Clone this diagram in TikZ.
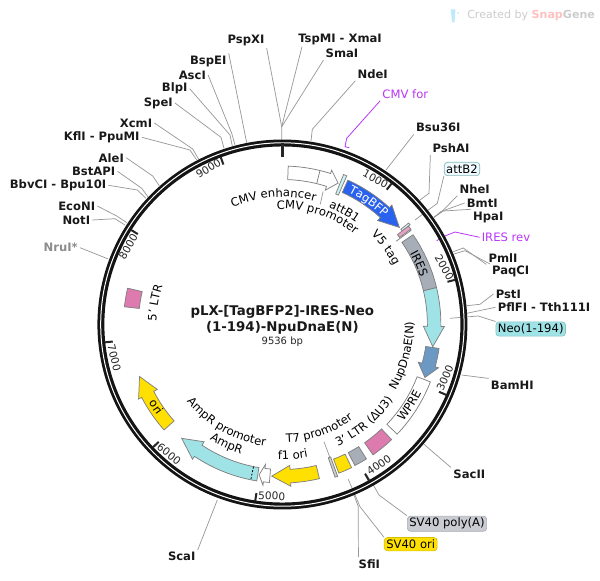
\documentclass[tikz,border=0pt]{standalone}
\usepackage{fontspec}
\setmainfont{DejaVu Sans}
\usetikzlibrary{decorations.text}
\definecolor{aqua}{HTML}{9FE3E6}
\definecolor{ygold}{HTML}{FFE000}
\definecolor{pinkf}{HTML}{DD7AAE}
\definecolor{grayf}{HTML}{A8AEB8}
\definecolor{bluef}{HTML}{2A62F0}
\definecolor{steelf}{HTML}{6C98C4}
\definecolor{violetl}{HTML}{B936F5}
\definecolor{edgeg}{HTML}{7F7F7F}
\definecolor{leadg}{HTML}{999999}
\definecolor{polygray}{HTML}{C9CCD3}
\tikzset{
  enz/.style={font=\fontsize{8.7}{10}\selectfont\bfseries,inner sep=1.5pt,text=black!90},
  greyenz/.style={enz,text=black!45},
  tag/.style={font=\fontsize{8.7}{10}\selectfont,inner sep=1.5pt,rounded corners=2.5pt,draw,line width=.5pt,minimum height=10pt},
  primer/.style={font=\fontsize{8.7}{10}\selectfont,inner sep=1.5pt,text=violetl},
  lead/.style={draw=leadg,line width=.55pt},
  plead/.style={draw=violetl,line width=.6pt},
  feat/.style={draw=edgeg,line width=.55pt},
  ticknum/.style={font=\fontsize{7.9}{9}\selectfont,inner sep=0pt,text=black!85},
  ticks/.style={line width=1.5pt,black!85}
}
% feature helpers, clockwise degrees from 12 o'clock
\newcommand{\farrow}[4]{\draw[feat,fill=#1] ({90-#2}:158.5) arc[start angle={90-#2},end angle={90-#3},radius=158.5] -- ({90-#3}:162) -- ({90-#4}:152) -- ({90-#3}:141) -- ({90-#3}:145) arc[start angle={90-#3},end angle={90-#2},radius=145] -- cycle;}
\newcommand{\fblock}[5]{\draw[feat,fill=#1] ({90-#2}:#5) arc[start angle={90-#2},end angle={90-#3},radius=#5] -- ({90-#3}:#4) arc[start angle={90-#3},end angle={90-#2},radius=#4] -- cycle;}
\newcommand{\cwtext}[4][black]{\path[decorate,decoration={text along path,text align=center,text={|\fontsize{8.7}{10}\selectfont\color{#1}|#2}}] ({90-#3+50}:#4) arc[start angle={90-#3+50},end angle={90-#3-50},radius=#4];}
\newcommand{\ccwtext}[4][black]{\path[decorate,decoration={text along path,text align=center,text={|\fontsize{8.7}{10}\selectfont\color{#1}|#2}}] ({90-#3-50}:#4) arc[start angle={90-#3-50},end angle={90-#3+50},radius=#4];}
\newcommand{\legA}[3]{\coordinate (#1e) at (#3); \draw[lead] (#1.#2) -- (#1e);}
\newcommand{\legB}[4]{\coordinate (#1m) at (#3); \coordinate (#1e) at (#4); \draw[lead] (#1.#2) -- (#1m) -- (#1e);}
\begin{document}
\begin{tikzpicture}[x=0.75pt,y=0.75pt]
\useasboundingbox (0,0) rectangle (600,-581);

% watermark
\fill[cyan!25] (450.7,-9.5) -- (455.5,-9.5) -- (454.5,-22.5) -- (452,-22.5) -- cycle;
\fill[cyan!25] (458,-13) circle (1);
\node[anchor=west,inner sep=0pt,font=\fontsize{8.3}{10}\selectfont,text=black!20] (wm) at (467,-15.5) {Created by {\bfseries\color{red!25}Snap}{\bfseries Gene}};

% enzyme and primer labels with leaders
\node[enz] (Psp) at (246,-40.5) {PspXI};
\node[enz] (Tsp) at (340,-39) {TspMI - XmaI};
\node[enz] (Sma) at (342,-53.5) {SmaI};
\node[enz] (Nde) at (372.7,-74) {NdeI};
\node[enz] (Bsu) at (438.3,-127.7) {Bsu36I};
\node[enz] (Psh) at (451,-148.3) {PshAI};
\node[enz] (Nhe) at (474.7,-189) {NheI};
\node[enz] (Bmt) at (482.3,-203) {BmtI};
\node[enz] (Hpa) at (488.3,-217) {HpaI};
\node[enz] (Pml) at (503,-257.7) {PmlI};
\node[enz] (Paq) at (510.7,-271.7) {PaqCI};
\node[enz] (Pst) at (508.3,-294) {PstI};
\node[enz] (Pfl) at (544,-307.3) {PflFI - Tth111I};
\node[enz] (Bam) at (512.3,-385) {BamHI};
\node[enz] (Sac) at (469.3,-474) {SacII};
\node[enz] (Sfi) at (369.3,-564) {SfiI};
\node[enz] (Sca) at (181.7,-556.7) {ScaI};
\node[enz] (Bsp) at (208.3,-61) {BspEI};
\node[enz] (Asc) at (192.3,-75) {AscI};
\node[enz] (Blp) at (174.7,-88.7) {BlpI};
\node[enz] (Spe) at (158.3,-103) {SpeI};
\node[enz] (Xcm) at (136,-123) {XcmI};
\node[enz] (Kfl) at (101.7,-137.3) {KflI - PpuMI};
\node[enz] (Ale) at (111.3,-157.7) {AleI};
\node[enz] (Bst) at (93.7,-171.3) {BstAPI};
\node[enz] (Bbv) at (58,-185.3) {BbvCI - Bpu10I};
\node[enz] (Eco) at (76.7,-206) {EcoNI};
\node[enz] (Not) at (76.3,-220) {NotI};
\node[greyenz] (Nru) at (60.7,-247.7) {NruI*};
\node[primer] (CMVf) at (405.3,-94) {CMV for};
\node[primer] (IRESr) at (506,-237.3) {IRES rev};
\node[tag,fill=cyan!6,draw=aqua!80!black] (attBtwo) at (462,-169) {attB2};
\node[tag,fill=aqua,draw=aqua!85!black] (Neo) at (530.7,-329) {Neo(1-194)};
\node[tag,fill=polygray,draw=polygray!85!black] (polyA) at (447,-523.7) {SV40 poly(A)};
\node[tag,fill=ygold,draw=ygold!85!black] (ori40) at (410.7,-544.2) {SV40 ori};

\coordinate (hub) at (281.7,-126.7);
\coordinate (top) at (281.7,-140);
\draw[lead] (Psp.south east) -- (hub) -- (top);
\draw[lead] (Tsp.south west) ++(6,0) -- (hub);
\draw[lead] (Sma.south west) -- (hub);
\legB{Nde}{south west}{312.3,-129.3}{311,-141}
\legA{Bsu}{south west}{386,-170}
\legB{Psh}{south west}{429,-193.3}{420,-200}
\legB{attBtwo}{south west}{437.3,-203.3}{415,-220}
\coordinate (trip) at (434,-217.3);
\draw[lead] (Nhe.south west) -- (441.7,-211.7) -- (trip);
\draw[lead] (Bmt.west) -- (441,-211.5) -- (trip);
\draw[lead] (Hpa.north west) -- (443.3,-211) -- (trip);
\legB{Pml}{south west}{463.3,-248}{453.3,-251.7}
\legB{Paq}{north west}{465,-250.7}{454,-254}
\legB{Pst}{west}{480,-304.3}{466.7,-305.7}
\legA{Pfl}{west}{466.7,-313.3}
\legB{Neo}{north west}{478.3,-316}{450,-318.3}
\legA{Bam}{north west}{461.7,-375}
\legB{Sac}{north west}{450,-466.7}{424,-444.3}
\draw[lead] (polyA.north west) -- (379,-495) -- (373.3,-485) -- (366.7,-475);
\legB{ori40}{north west}{360,-506.7}{348.3,-479.3}
\draw[lead] (Sfi.north west) ++(2,0) -- (358.3,-506.7) -- (353.3,-493);
\legA{Sca}{north east}{217.3,-500}
\legA{Bsp}{north east}{246.7,-142.7}
\draw[lead] (Asc.east) -- (231.7,-133.3) -- (235,-145);
\draw[lead] (Blp.east) -- (230,-135) -- (232.3,-146);
\draw[lead] (Spe.east) -- (221,-137.3) -- (224,-148.3);
\draw[lead] (Xcm.east) -- (192.7,-149) -- (198.7,-159.3);
\draw[lead] (Kfl.east) -- (190,-150) -- (196.7,-160);
\draw[lead] (Ale.east) -- (152.7,-176) -- (159.3,-185.7);
\draw[lead] (Bst.east) -- (141.7,-188.3) -- (148.3,-197.3);
\draw[lead] (Bbv.east) -- (137.3,-190) -- (146,-198.3);
\draw[lead] (Eco.east) -- (116.7,-216) -- (126.7,-222.7);
\draw[lead] (Not.east) -- (115,-218.7) -- (125,-225);
\legA{Nru}{east}{108.3,-259}
\coordinate (CMVa) at (346.7,-138.3);
\coordinate (CMVb) at (345,-146.7);
\coordinate (CMVc) at (349.3,-147.7);
\draw[plead] (CMVf.south west) -- (CMVa) -- (CMVb) -- (CMVc);
\coordinate (IRa) at (455,-232);
\coordinate (IRb) at (443.3,-236.7);
\coordinate (IRc) at (436.7,-240.7);
\draw[plead] (IRESr.west) -- (IRa) -- (IRb) -- (IRc);
\draw[lead] (324,-441.7) -- (337.3,-477.3);

% ring and everything centred on it
\begin{scope}[shift={(282.4,-324.5)}]
\draw[line width=5.2pt,black!92] (0,0) circle (181.5);
\draw[line width=.75pt,white] (0,0) circle (181.7);
\draw[ticks,line width=2.2pt] (90:181) -- (90:167);
\foreach \b in {1000,2000,...,9000}{
  \pgfmathsetmacro{\ang}{90-\b/9536*360}
  \draw[ticks] (\ang:178.5) -- (\ang:170.5);
}
% features
\farrow{white}{2.1}{17.7}{21.5}
\draw[feat] ({90-13.7}:158) -- ({90-13.7}:145);
\draw[lead] ({90-17}:139) -- ({90-17.5}:126);
\fblock{aqua!50}{22.2}{23.4}{141}{162}
\farrow{bluef}{24.4}{42.5}{50.3}
\fblock{aqua!40}{51.2}{52}{152}{162}
\fblock{pinkf!70}{52}{53.4}{146}{160}
\draw[feat] ({90-53.8}:141) -- ({90-53.8}:160);
\farrow{aqua}{76.5}{90.7}{98.4}
\fblock{grayf}{55.5}{76.5}{145}{158.5}
\farrow{steelf}{98.7}{105.5}{110.4}
\fblock{white}{111.2}{133.7}{144.5}{158.7}
\fblock{pinkf}{136.5}{145.2}{144}{158.7}
\fblock{grayf}{148}{152.8}{144}{158.5}
\fblock{ygold}{154.2}{159.2}{144}{159}
\fblock{black!20}{160}{161}{141}{161.5}
\farrow{ygold}{166.5}{177}{184}
\farrow{white}{184.7}{186.9}{188.8}
\farrow{aqua}{189.3}{213.7}{221.5}
\draw[black,line width=.6pt,dash pattern=on 1.5pt off 1.2pt] ({90-191.5}:145) -- ({90-191.5}:158.5);
\farrow{ygold}{228.3}{242.6}{250}
\fblock{pinkf}{276.4}{283.2}{144}{159}
% curved labels
\cwtext{CMV enhancer}{-4}{127.5}
\cwtext{CMV promoter}{18}{115.5}
\cwtext{attB1}{28.8}{125.5}
\cwtext[white]{TagBFP}{35}{147.5}
\cwtext{V5 tag}{53.4}{126}
\cwtext{IRES}{65.9}{146}
\ccwtext{NupDnaE(N)}{104.5}{131}
\ccwtext{WPRE}{122.5}{155}
\ccwtext{3' LTR (ΔU3)}{140}{134}
\ccwtext{T7 promoter}{160.7}{118}
\ccwtext{f1 ori}{175.5}{135}
\ccwtext{AmpR promoter}{209.5}{123}
\ccwtext{AmpR}{205}{136}
\ccwtext{ori}{236.8}{155}
\cwtext{5' LTR}{279.8}{126}
\end{scope}

% tick numbers
\node[ticknum,rotate=-29] (t1) at (375.5,-179) {1000};
\node[ticknum,rotate=-60] (t2) at (444.3,-267.3) {2000};
\node[ticknum,rotate=66] (t3) at (445,-377.7) {3000};
\node[ticknum,rotate=35] (t4) at (379,-465) {4000};
\node[ticknum,rotate=-2] (t5) at (271.7,-496) {5000};
\node[ticknum,rotate=-38] (t6) at (169,-454) {6000};
\node[ticknum,rotate=-76] (t7) at (114.3,-357.7) {7000};
\node[ticknum,rotate=60] (t8) at (128.3,-246.7) {8000};
\node[ticknum,rotate=31] (t9) at (208.3,-168.3) {9000};

% title
\node[font=\fontsize{10}{12}\selectfont\bfseries,inner sep=0pt,text=black!90] (title) at (282.3,-312.3) {pLX-[TagBFP2]-IRES-Neo};
\node[font=\fontsize{10}{12}\selectfont\bfseries,inner sep=0pt,text=black!90] (titleb) at (282.3,-328.3) {(1-194)-NpuDnaE(N)};
\node[font=\fontsize{7.5}{9}\selectfont,inner sep=0pt,text=black!85] (bp) at (282.3,-341.7) {9536 bp};
\end{tikzpicture}
\end{document}
